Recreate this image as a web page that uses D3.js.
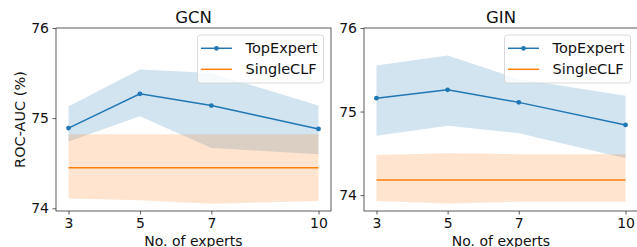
<html>
<head>
<meta charset="utf-8">
<script src="https://cdn.jsdelivr.net/npm/d3@7/dist/d3.min.js"></script>
<style>
  html, body { margin: 0; padding: 0; background: #fff; }
  text { font-family: "DejaVu Sans", sans-serif; }
</style>
</head>
<body>
<svg id="mainsvg" width="637" height="247"></svg>
<script>
// data
const experts = [3, 5, 7, 10];
const yTicks = [74, 75, 76];

const gcnTop   = [74.89, 75.27, 75.14, 74.88];
const gcnTopLo = [74.74, 75.02, 74.67, 74.60];
const gcnTopHi = [75.13, 75.54, 75.50, 75.14];
const gcnSingle   = [74.45, 74.45, 74.45, 74.45];
const gcnSingleLo = [74.11, 74.09, 74.05, 74.08];
const gcnSingleHi = [74.82, 74.82, 74.82, 74.82];

const ginTop   = [75.16, 75.26, 75.11, 74.84];
const ginTopLo = [74.71, 74.83, 74.74, 74.44];
const ginTopHi = [75.55, 75.67, 75.39, 75.19];
const ginSingle   = [74.18, 74.18, 74.18, 74.18];
const ginSingleLo = [73.93, 73.90, 73.92, 73.92];
const ginSingleHi = [74.48, 74.50, 74.49, 74.49];

const blue = "#1f77b4", orange = "#ff7f0e";

const svg = d3.select('#mainsvg');

const panels = [
  {title: "GCN", left: 56, right: 331, top: 28, bottom: 211, ylim: [73.97, 76],
   top_: gcnTop, topLo: gcnTopLo, topHi: gcnTopHi, single: gcnSingle, singleLo: gcnSingleLo, singleHi: gcnSingleHi, ylabel: true},
  {title: "GIN", left: 364, right: 638, top: 28, bottom: 211, ylim: [73.81, 76],
   top_: ginTop, topLo: ginTopLo, topHi: ginTopHi, single: ginSingle, singleLo: ginSingleLo, singleHi: ginSingleHi, ylabel: false}
];

panels.forEach(p => {
  const xScale = d3.scaleLinear().domain([2.65, 10.35]).range([p.left, p.right]);
  const yScale = d3.scaleLinear().domain(p.ylim).range([p.bottom, p.top]);
  const g = svg.append('g');

  const band = (lo, hi) => d3.area()
    .x((d, i) => xScale(experts[i]))
    .y0((d, i) => yScale(lo[i]))
    .y1((d, i) => yScale(hi[i]));
  const line = d3.line().x((d, i) => xScale(experts[i])).y(d => yScale(d));

  g.append('path').attr('d', band(p.topLo, p.topHi)(experts))
    .attr('fill', blue).attr('fill-opacity', 0.2);
  g.append('path').attr('d', line(p.top_))
    .attr('fill', 'none').attr('stroke', blue).attr('stroke-width', 1.5);
  g.selectAll('circle').data(p.top_).join('circle')
    .attr('cx', (d, i) => xScale(experts[i])).attr('cy', d => yScale(d))
    .attr('r', 2.4).attr('fill', blue);

  g.append('path').attr('d', band(p.singleLo, p.singleHi)(experts))
    .attr('fill', orange).attr('fill-opacity', 0.2);
  g.append('path').attr('d', line(p.single))
    .attr('fill', 'none').attr('stroke', orange).attr('stroke-width', 1.5);

  // axes
  const xAxis = g.append('g').attr('transform', `translate(0, ${p.bottom})`)
    .call(d3.axisBottom(xScale).tickValues(experts).tickFormat(d3.format('d'))
      .tickSizeInner(3.5).tickSizeOuter(0).tickPadding(3.5));
  const yAxis = g.append('g').attr('transform', `translate(${p.left}, 0)`)
    .call(d3.axisLeft(yScale).tickValues(yTicks).tickFormat(d3.format('d'))
      .tickSizeInner(3.5).tickSizeOuter(0).tickPadding(3.5));
  [xAxis, yAxis].forEach(a => {
    a.attr('font-size', 14).attr('font-family', '"DejaVu Sans", sans-serif');
    a.select('.domain').remove();
    a.selectAll('line').attr('stroke', '#333').attr('stroke-width', 0.8);
    a.selectAll('text').attr('fill', '#111');
  });

  g.append('rect').attr('x', p.left).attr('y', p.top)
    .attr('width', p.right - p.left).attr('height', p.bottom - p.top)
    .attr('fill', 'none').attr('stroke', '#333').attr('stroke-width', 0.8);

  g.append('text').attr('x', (p.left + p.right) / 2).attr('y', 23.3)
    .attr('text-anchor', 'middle').attr('font-size', 16.5).attr('fill', '#111').text(p.title);
  g.append('text').attr('x', (p.left + p.right) / 2).attr('y', 245.5)
    .attr('text-anchor', 'middle').attr('font-size', 14).attr('fill', '#111').text("No. of experts");
  if (p.ylabel) {
    g.append('text').attr('transform', `translate(25, ${(p.top + p.bottom) / 2}) rotate(-90)`)
      .attr('text-anchor', 'middle').attr('font-size', 14.5).attr('fill', '#111').text("ROC-AUC (%)");
  }

  // legend
  const lw = 126, lx = p.right - 7.5 - lw, ly = 35;
  const lg = g.append('g');
  lg.append('rect').attr('x', lx).attr('y', ly).attr('width', lw).attr('height', 48)
    .attr('rx', 3).attr('fill', 'white').attr('fill-opacity', 0.8)
    .attr('stroke', '#d0d0d0').attr('stroke-width', 0.8);
  const items = [{name: "TopExpert", color: blue, marker: true}, {name: "SingleCLF", color: orange, marker: false}];
  items.forEach((it, i) => {
    const cy = ly + 13.3 + i * 21;
    lg.append('line').attr('x1', lx + 3.5).attr('x2', lx + 34.5).attr('y1', cy).attr('y2', cy)
      .attr('stroke', it.color).attr('stroke-width', 1.5);
    if (it.marker) lg.append('circle').attr('cx', lx + 19).attr('cy', cy).attr('r', 2.4).attr('fill', it.color);
    lg.append('text').attr('x', lx + 48).attr('y', cy).attr('dy', '0.35em')
      .attr('font-size', 14.5).attr('fill', '#111').text(it.name);
  });
});
</script>
</body>
</html>
